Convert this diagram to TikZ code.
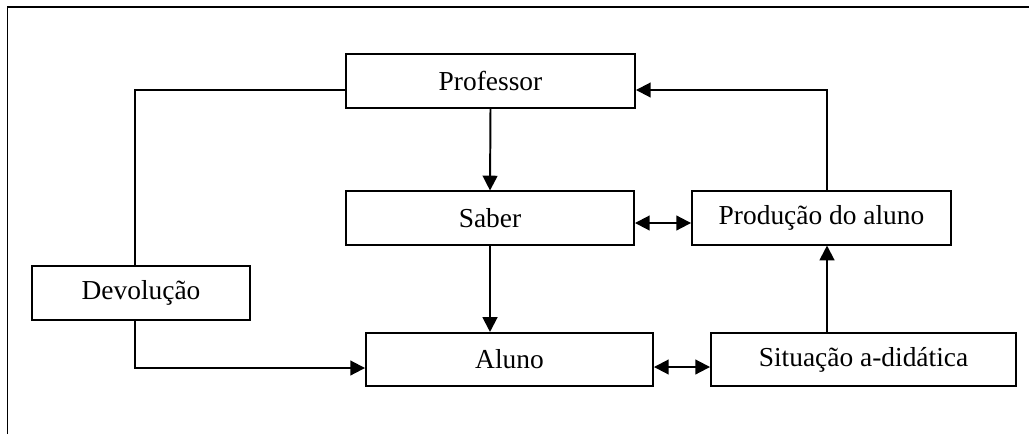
\documentclass[tikz,border=0pt]{standalone}
\usepackage{fontspec}
\setmainfont{Liberation Serif}
\usetikzlibrary{arrows.meta,calc}

\tikzset{
    caixa/.style={draw, line width=1.3pt, inner sep=0pt, minimum height=1.33cm,
        font=\fontsize{19.5}{23}\selectfont},
    seta/.style={line width=1.4pt, -{Triangle[length=10.5pt,width=10.5pt]}},
    seta2/.style={line width=1.4pt, {Triangle[length=10.5pt,width=10.5pt]}-{Triangle[length=10.5pt,width=10.5pt]}},
    linha/.style={line width=1.3pt}
}

\begin{document}
\begin{tikzpicture}[x=0.025cm,y=-0.025cm]
        \useasboundingbox (0,0) rectangle (1029,434);
        % Moldura
        \draw[line width=1.1pt] (7.5,434) |- (1029,7);
        % Caixas
        \node[caixa, minimum width=7.225cm] (prof) at (490.5,81) {Professor};
        \node[caixa, minimum width=7.2cm] (saber) at (490,218) {Saber};
        \node[caixa, minimum width=6.475cm] (prod) at (821.5,218) {Produção do aluno};
        \node[caixa, minimum width=5.45cm] (devol) at (141,293) {Devolução};
        \node[caixa, minimum width=7.175cm] (aluno) at (509.5,359.5) {Aluno};
        \node[caixa, minimum width=7.625cm] (situ) at (863.5,359.5) {Situação a-didática};
        \coordinate (dx) at (135,0);
        \coordinate (px) at (827,0);
        % Setas verticais
        \draw[seta] (prof.south) -- (saber.north);
        \draw[seta] (saber.south) -- (saber.south |- aluno.north);
        \draw[seta] (px |- situ.north) -- (px |- prod.south);
        \draw[seta] (px |- prod.north) |- ($(prof.east)+(0,9)$);
        % Devolucao
        \draw[linha] ($(prof.west)+(0,9)$) -| (dx |- devol.north);
        \draw[seta] (dx |- devol.south) |- ($(aluno.west)+(0,8.5)$);
        % Setas duplas
        \draw[seta2] ($(saber.east)+(0,5)$) -- ($(prod.west)+(0,5)$);
        \draw[seta2] ($(aluno.east)+(0,7.5)$) -- ($(situ.west)+(0,7.5)$);
        %\node at (500,420) {};
    \end{tikzpicture}
\end{document}
